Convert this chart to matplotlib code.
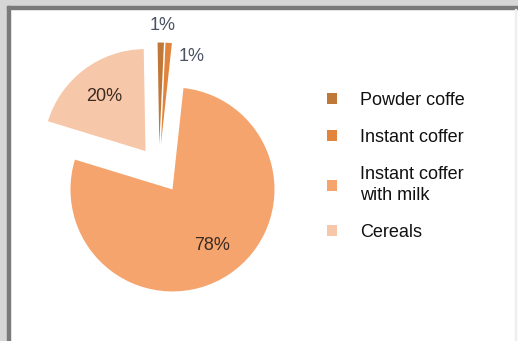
import matplotlib.pyplot as plt
from matplotlib.patches import Rectangle, Patch
import numpy as np

plt.rcParams['font.family'] = ['Liberation Sans', 'DejaVu Sans']

# Données
categories = ['Powder coffe', 'Instant coffer', 'Instant coffer\nwith milk', 'Cereals']
shares = [1, 1, 78, 20]
labels_pct = ['1%', '1%', '78%', '20%']
colors = ['#c07838', '#e2843c', '#f5a46e', '#f6c7a8']

fig = plt.figure(figsize=(5.18, 3.41), dpi=100)
fig.patch.set_facecolor('white')

# cadre gris (bords gauche et haut)
fig.patches.append(Rectangle((0, 0), 7 / 518, 1, transform=fig.transFigure,
                             color='#d6d6d6', zorder=0))
fig.patches.append(Rectangle((0, 1 - 6 / 341), 1, 6 / 341, transform=fig.transFigure,
                             color='#d6d6d6', zorder=0))
fig.patches.append(Rectangle((7 / 518, 0), 3 / 518, 1 - 6 / 341, transform=fig.transFigure,
                             color='#7a7a7a', zorder=1))
fig.patches.append(Rectangle((7 / 518, 1 - 9 / 341), 1, 3 / 341, transform=fig.transFigure,
                             color='#7a7a7a', zorder=1))
fig.patches.append(Rectangle((515 / 518, 0), 1 / 518, 1 - 9 / 341, transform=fig.transFigure,
                             color='#eeeeee', zorder=1))

# Axe du camembert : centre ~ (159, 169) px, rayon ~ 102 px
a = 1.5
w = 2 * a * 102
ax = fig.add_axes([(159 - w / 2) / 518, (341 - 169 - w / 2) / 341, w / 518, w / 341])
wedges, _ = ax.pie(shares, colors=colors, startangle=91, counterclock=False,
                   explode=[0.24, 0.24, 0.24, 0.22], radius=1)
ax.set_xlim(-a, a)
ax.set_ylim(-a, a)
ax.set_aspect('equal')
ax.axis('off')

# Étiquettes de pourcentage
label_r = [1.17, 0.92, 0.67, 0.67]
label_shift = [-1, -15, 2, 0]
label_colors = ['#4b5263', '#4b5263', '#3b2b22', '#3b2b22']
for wd, txt, r, sh, c in zip(wedges, labels_pct, label_r, label_shift, label_colors):
    ang = np.deg2rad((wd.theta1 + wd.theta2) / 2 + sh)
    cx, cy = wd.center
    ax.text(cx + r * np.cos(ang), cy + r * np.sin(ang), txt, ha='center', va='center',
            fontsize=13, color=c)

# Légende
handles = [Patch(facecolor=c, edgecolor='none') for c in colors]
leg = fig.legend(handles, categories, loc='upper left', bbox_to_anchor=(327 / 518, 1 - 92 / 341),
                 frameon=False, fontsize=13, handlelength=0.55, handleheight=0.55,
                 handletextpad=1.3, labelspacing=1.1, borderpad=0, borderaxespad=0)
for t in leg.get_texts():
    t.set_linespacing(1.35)
    t.set_color('#111111')

plt.savefig('out.png', dpi=100)
